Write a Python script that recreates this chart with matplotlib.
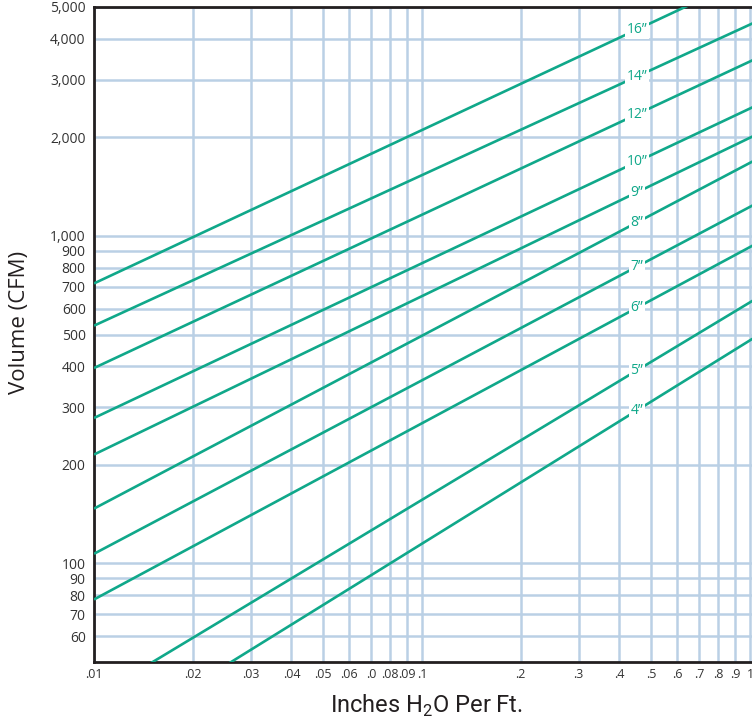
import matplotlib
matplotlib.use("Agg")
import matplotlib.pyplot as plt
import numpy as np

# duct sizes and airflow (CFM) read at .01 and 1 in. H2O per ft
sizes = ['16”', '14”', '12”', '10”', '9”', '8”', '7”', '6”', '5”', '4”']
cfm_at_001 = [716, 532, 395, 278, 215, 147, 107, 77.6, 39.0, 27.5]
cfm_at_1 = [6190, 4420, 3410, 2450, 1995, 1672, 1227, 925, 627, 480]
label_x = 0.452

xticks = [0.01, 0.02, 0.03, 0.04, 0.05, 0.06, 0.07, 0.08, 0.09,
          0.1, 0.2, 0.3, 0.4, 0.5, 0.6, 0.7, 0.8, 0.9, 1]
xlabels = ['.01', '.02', '.03', '.04', '.05', '.06', '.0', '.08', '.09',
           '.1', '.2', '.3', '.4', '.5', '.6', '.7', '.8', '.9', '1']
yticks = [60, 70, 80, 90, 100, 200, 300, 400, 500, 600, 700, 800, 900,
          1000, 2000, 3000, 4000, 5000]
ylabels = ['60', '70', '80', '90', '100', '200', '300', '400', '500', '600',
           '700', '800', '900', '1,000', '2,000', '3,000', '4,000', '5,000']

green = '#10a88a'
gridc = '#bad0e5'

fig = plt.figure(figsize=(7.52, 7.25), dpi=100)
# axes runs a little past the right edge, like the cropped original
ax = fig.add_axes([94 / 752, 63 / 725, 669.6 / 752, 655 / 725])
ax.set_xscale('log')
ax.set_yscale('log')
ax.set_xlim(0.01, 1.1)
ax.set_ylim(50, 5000)

ax.set_xticks(xticks)
ax.set_xticklabels(xlabels, fontsize=9, family='Open Sans', color='#333333')
ax.set_yticks(yticks)
ax.set_yticklabels(ylabels, fontsize=10, family='Open Sans', color='#333333')
ax.minorticks_off()
ax.tick_params(length=0)
ax.tick_params(axis='x', pad=4)
ax.tick_params(axis='y', pad=6)

ax.grid(True, color=gridc, linewidth=1.8)
ax.set_axisbelow(True)

for s in ['left', 'bottom', 'top']:
    ax.spines[s].set_color('#231f20')
    ax.spines[s].set_linewidth(2)
ax.spines['right'].set_visible(False)

xs = np.array([0.01, 1.1])
for name, q0, q1 in zip(sizes, cfm_at_001, cfm_at_1):
    k = np.log10(q1 / q0) / 2.0
    ax.plot(xs, q0 * (xs / 0.01) ** k, color=green, linewidth=1.9,
            solid_capstyle='butt', zorder=3)
    ly = q0 * (label_x / 0.01) ** k
    ax.text(label_x, ly, name, color=green, fontsize=10, family='Open Sans',
            ha='center', va='center', zorder=4,
            bbox=dict(boxstyle='square,pad=0.12', fc='white', ec='none'))

fig.text(20 / 752, 1 - 322 / 725, 'Volume (CFM)', rotation=90,
         ha='center', va='center', fontsize=16, family='Open Sans',
         color='#231f20')
fig.text(426 / 752, 1 - 706 / 725, r'Inches H$_{\mathregular{2}}$O Per Ft.',
         ha='center', va='center', fontsize=17, family='Roboto',
         color='#231f20')

fig.savefig('out.png', dpi=100)
